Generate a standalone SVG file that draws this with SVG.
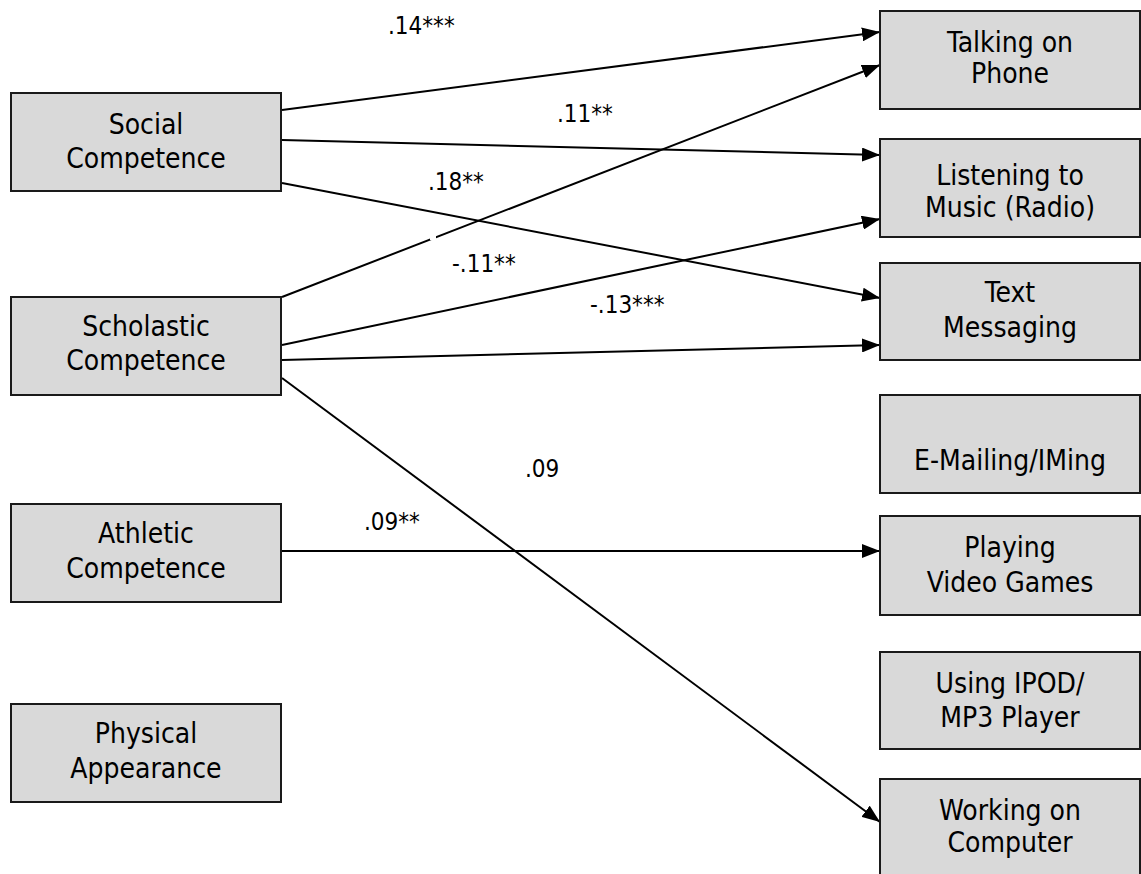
<svg xmlns="http://www.w3.org/2000/svg" width="1141" height="874" viewBox="0 0 1141 874">
<defs>
<marker id="ah" markerWidth="18" markerHeight="14" refX="18" refY="7" orient="auto" markerUnits="userSpaceOnUse">
<path d="M0,0 L18,7 L0,14 Z" fill="#000"/>
</marker>
<style>
.box{fill:#d9d9d9;stroke:#1a1a1a;stroke-width:2}
.t{font-family:"DejaVu Sans Condensed","DejaVu Sans",sans-serif;font-size:28px;fill:#000;text-anchor:middle}
.lbl{font-family:"DejaVu Sans Condensed","DejaVu Sans",sans-serif;font-size:24px;fill:#000}
.c{stroke:#000;stroke-width:2;fill:none;marker-end:url(#ah)}
</style>
</defs>
<rect width="1141" height="874" fill="#fff"/>
<g id="connectors">
<line class="c" x1="282" y1="110" x2="880" y2="32"/>
<line class="c" x1="282" y1="140" x2="880" y2="155"/>
<line class="c" x1="282" y1="183" x2="880" y2="298"/>
<line class="c" x1="282" y1="297" x2="880" y2="65"/>
<line class="c" x1="282" y1="345" x2="880" y2="219"/>
<line class="c" x1="282" y1="360" x2="880" y2="345"/>
<line class="c" x1="282" y1="378" x2="880" y2="822"/>
<line class="c" x1="282" y1="551" x2="880" y2="551"/>
<rect x="430" y="234" width="6" height="6" fill="#fff"/>
</g>
<g id="labels">
<text class="lbl" x="388" y="34">.14***</text>
<text class="lbl" x="557" y="122">.11**</text>
<text class="lbl" x="428" y="190">.18**</text>
<text class="lbl" x="452" y="272">-.11**</text>
<text class="lbl" x="590" y="313">-.13***</text>
<text class="lbl" x="525" y="477">.09</text>
<text class="lbl" x="364" y="530">.09**</text>
</g>
<g id="social"><rect class="box" x="11" y="93" width="270" height="98"/><text class="t" x="146" y="134">Social</text><text class="t" x="146" y="168">Competence</text></g>
<g id="scholastic"><rect class="box" x="11" y="297" width="270" height="98"/><text class="t" x="146" y="336">Scholastic</text><text class="t" x="146" y="370">Competence</text></g>
<g id="athletic"><rect class="box" x="11" y="504" width="270" height="98"/><text class="t" x="146" y="543">Athletic</text><text class="t" x="146" y="578">Competence</text></g>
<g id="physical"><rect class="box" x="11" y="704" width="270" height="98"/><text class="t" x="146" y="743">Physical</text><text class="t" x="146" y="778">Appearance</text></g>
<g id="talking"><rect class="box" x="880" y="11" width="260" height="98"/><text class="t" x="1010" y="52">Talking on</text><text class="t" x="1010" y="83">Phone</text></g>
<g id="listening"><rect class="box" x="880" y="139" width="260" height="98"/><text class="t" x="1010" y="185">Listening to</text><text class="t" x="1010" y="217">Music (Radio)</text></g>
<g id="texting"><rect class="box" x="880" y="263" width="260" height="97"/><text class="t" x="1010" y="302">Text</text><text class="t" x="1010" y="337">Messaging</text></g>
<g id="emailing"><rect class="box" x="880" y="395" width="260" height="98"/><text class="t" x="1010" y="470">E-Mailing/IMing</text></g>
<g id="videogames"><rect class="box" x="880" y="516" width="260" height="99"/><text class="t" x="1010" y="557">Playing</text><text class="t" x="1010" y="592">Video Games</text></g>
<g id="ipod"><rect class="box" x="880" y="652" width="260" height="97"/><text class="t" x="1010" y="693">Using IPOD/</text><text class="t" x="1010" y="727">MP3 Player</text></g>
<g id="computer"><rect class="box" x="880" y="779" width="260" height="100"/><text class="t" x="1010" y="820">Working on</text><text class="t" x="1010" y="852">Computer</text></g>
</svg>
